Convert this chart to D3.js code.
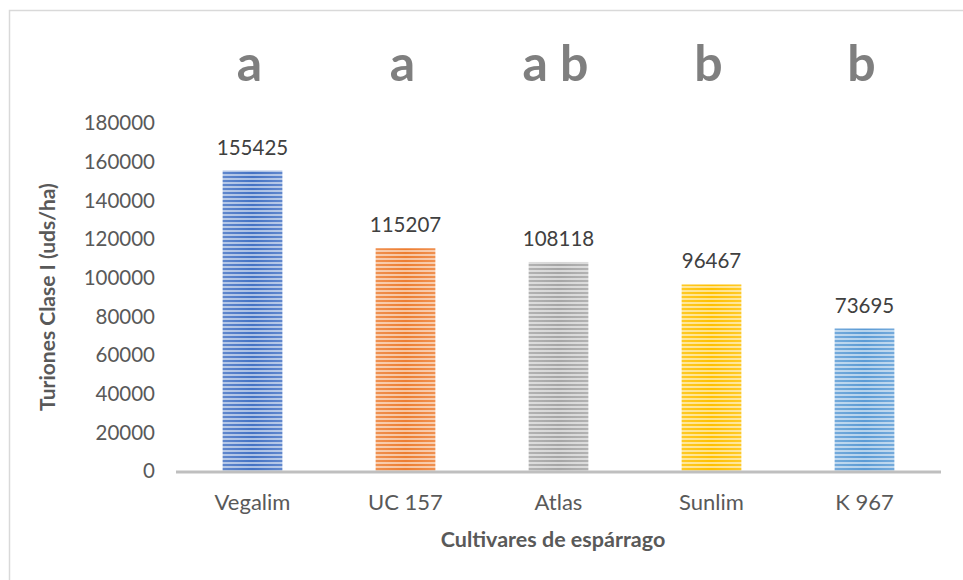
<!DOCTYPE html>
<html>
<head>
<script src="https://d3js.org/d3.v7.min.js"></script>
<style>
  body { margin: 0; background: #fff; }
  text { font-family: Lato, "Open Sans", sans-serif; }
</style>
</head>
<body>
<script>
  var width = 963
  var height = 580

  var cultivares = ["Vegalim", "UC 157", "Atlas", "Sunlim", "K 967"]
  var turiones = [155425, 115207, 108118, 96467, 73695]
  var letras = ["a", "a", "a b", "b", "b"]
  var colores = ["#4472C4", "#ED7D31", "#A5A5A5", "#FFC000", "#5B9BD5"]
  var ticks = [0, 20000, 40000, 60000, 80000, 100000, 120000, 140000, 160000, 180000]

  var svg = d3.select("body").append("svg")
              .attr("width", width)
              .attr("height", height)

  // chart frame (only top and left visible)
  svg.append("rect")
     .attr("x", 9.5).attr("y", 10.5)
     .attr("width", 1000).attr("height", 1000)
     .attr("fill", "none").attr("stroke", "#d9d9d9").attr("stroke-width", 1.5)

  var x = d3.scaleBand()
            .domain(cultivares)
            .range([176, 941])
            .paddingInner(0.61)
            .paddingOuter(0.305)

  var y = d3.scaleLinear()
            .domain([0, 180000])
            .range([471, 123])

  // striped fills
  var defs = svg.append("defs")
  colores.forEach(function(c, i) {
    var p = defs.append("pattern")
                .attr("id", "rayas" + i)
                .attr("patternUnits", "userSpaceOnUse")
                .attr("width", 8).attr("height", 4)
    p.append("rect").attr("width", 8).attr("height", 4)
     .attr("fill", d3.interpolateRgb(c, "#fff")(0.55))
    p.append("rect").attr("width", 8).attr("height", 2)
     .attr("fill", c)
  })
  var g = defs.append("linearGradient").attr("id", "brillo")
  g.append("stop").attr("offset", "0%").attr("stop-color", "#fff").attr("stop-opacity", 0.15)
  g.append("stop").attr("offset", "50%").attr("stop-color", "#fff").attr("stop-opacity", 0)
  g.append("stop").attr("offset", "100%").attr("stop-color", "#fff").attr("stop-opacity", 0.15)

  // y tick labels
  svg.selectAll(".tick-label")
     .data(ticks)
     .enter().append("text")
     .attr("x", 155)
     .attr("y", function(d) { return y(d) })
     .attr("dy", "0.36em")
     .attr("text-anchor", "end")
     .attr("font-size", 20.5)
     .attr("fill", "#595959")
     .text(function(d) { return d })

  // bars
  svg.selectAll(".bar")
     .data(turiones)
     .enter().append("rect")
     .attr("x", function(d, i) { return x(cultivares[i]) })
     .attr("y", function(d) { return y(d) })
     .attr("width", x.bandwidth())
     .attr("height", function(d) { return y(0) - y(d) })
     .attr("fill", function(d, i) { return "url(#rayas" + i + ")" })

  svg.selectAll(".brillo")
     .data(turiones)
     .enter().append("rect")
     .attr("x", function(d, i) { return x(cultivares[i]) })
     .attr("y", function(d) { return y(d) })
     .attr("width", x.bandwidth())
     .attr("height", function(d) { return y(0) - y(d) })
     .attr("fill", "url(#brillo)")

  // baseline
  svg.append("line")
     .attr("x1", 176).attr("x2", 941)
     .attr("y1", y(0) + 1).attr("y2", y(0) + 1)
     .attr("stroke", "#bfbfbf").attr("stroke-width", 3)

  // value labels
  svg.selectAll(".valor")
     .data(turiones)
     .enter().append("text")
     .attr("x", function(d, i) { return x(cultivares[i]) + x.bandwidth() / 2 })
     .attr("y", function(d) { return y(d) - 16 })
     .attr("text-anchor", "middle")
     .attr("font-size", 20.5)
     .attr("fill", "#404040")
     .text(function(d) { return d })

  // category labels
  svg.selectAll(".cat")
     .data(cultivares)
     .enter().append("text")
     .attr("x", function(d) { return x(d) + x.bandwidth() / 2 })
     .attr("y", 510)
     .attr("text-anchor", "middle")
     .attr("font-size", 22)
     .attr("fill", "#595959")
     .text(function(d) { return d })

  // significance letters
  svg.selectAll(".letra")
     .data(letras)
     .enter().append("text")
     .attr("x", function(d, i) { return x(cultivares[i]) + x.bandwidth() / 2 - 3 })
     .attr("y", 81)
     .attr("text-anchor", "middle")
     .attr("font-size", 50)
     .attr("font-weight", "bold")
     .attr("fill", "#7f7f7f")
     .text(function(d) { return d })

  // axis titles
  svg.append("text")
     .attr("x", 553).attr("y", 547)
     .attr("text-anchor", "middle")
     .attr("font-size", 21.5)
     .attr("font-weight", "bold")
     .attr("fill", "#595959")
     .text("Cultivares de espárrago")

  svg.append("text")
     .attr("transform", "translate(55,297) rotate(-90)")
     .attr("text-anchor", "middle")
     .attr("font-size", 21)
     .attr("font-weight", "bold")
     .attr("fill", "#595959")
     .text("Turiones Clase I (uds/ha)")
</script>
</body>
</html>
